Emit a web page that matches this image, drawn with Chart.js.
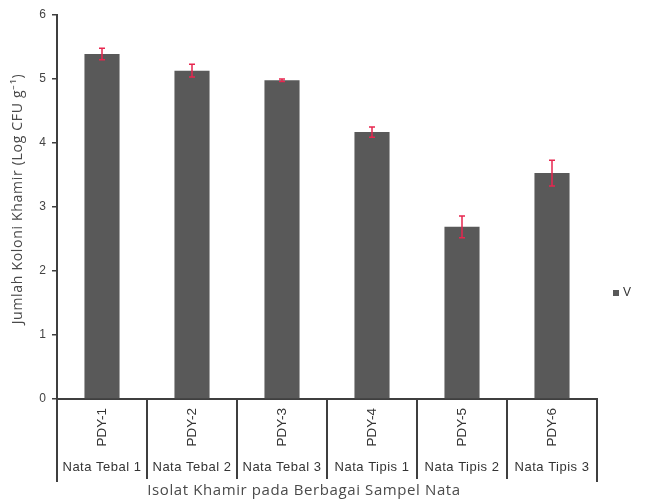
<!DOCTYPE html>
<html>
<head>
<meta charset="utf-8">
<script src="https://cdn.jsdelivr.net/npm/chart.js@4/dist/chart.umd.min.js"></script>
<style>
  html, body { margin: 0; padding: 0; background: #fff; }
  #wrap { width: 648px; height: 503px; position: relative; }
</style>
</head>
<body>
<div id="wrap"><canvas id="koloniChart" width="648" height="503"></canvas></div>
<script>
// isolat, kelompok sampel, nilai rata-rata dan galat
const isolates = ['PDY-1', 'PDY-2', 'PDY-3', 'PDY-4', 'PDY-5', 'PDY-6'];
const samples = ['Nata Tebal 1', 'Nata Tebal 2', 'Nata Tebal 3', 'Nata Tipis 1', 'Nata Tipis 2', 'Nata Tipis 3'];
const logCfu = [5.39, 5.13, 4.98, 4.17, 2.69, 3.53];
const errors = [0.09, 0.10, 0.02, 0.08, 0.17, 0.20];
const yTicks = [0, 1, 2, 3, 4, 5, 6];

const axisColor = '#3f3f3f';
const barColor = '#595959';

// error bars, category boxes, sample names, axis titles, legend
const extras = {
  id: 'extras',
  afterDatasetsDraw(chart) {
    const { ctx, scales: { x, y }, chartArea } = chart;
    ctx.save();

    // error bars
    ctx.strokeStyle = '#e8264f';
    ctx.lineWidth = 1.5;
    logCfu.forEach((v, i) => {
      const cx = x.getPixelForValue(i);
      const top = y.getPixelForValue(v + errors[i]);
      const bot = y.getPixelForValue(v - errors[i]);
      ctx.beginPath();
      ctx.moveTo(cx, top); ctx.lineTo(cx, bot);
      ctx.moveTo(cx - 3, top); ctx.lineTo(cx + 3, top);
      ctx.moveTo(cx - 3, bot); ctx.lineTo(cx + 3, bot);
      ctx.stroke();
    });

    // separators under the axis
    const step = (chartArea.right - chartArea.left) / isolates.length;
    ctx.strokeStyle = axisColor;
    ctx.lineWidth = 2;
    for (let i = 0; i <= isolates.length; i++) {
      const px = Math.round(chartArea.left + i * step);
      ctx.beginPath();
      ctx.moveTo(px, chartArea.bottom);
      ctx.lineTo(px, chartArea.bottom + (i === 0 || i === isolates.length ? 83 : 80));
      ctx.stroke();
    }

    // sample names
    ctx.fillStyle = '#333';
    ctx.font = '13px "Liberation Sans", Arial, sans-serif';
    ctx.letterSpacing = '0.5px';
    ctx.textAlign = 'center';
    ctx.textBaseline = 'middle';
    samples.forEach((s, i) => {
      ctx.fillText(s, x.getPixelForValue(i), 467);
    });

    // axis titles
    ctx.fillStyle = '#4a4a4a';
    ctx.font = '15px "Open Sans", sans-serif';
    ctx.letterSpacing = '0.6px';
    ctx.fillText('Isolat Khamir pada Berbagai Sampel Nata', 304, 491);

    ctx.save();
    ctx.translate(18, 199);
    ctx.rotate(-Math.PI / 2);
    ctx.font = '14px "Open Sans", sans-serif';
    ctx.letterSpacing = '0.7px';
    ctx.fillText('Jumlah Koloni Khamir (Log CFU g\u207B\u00B9)', 0, 0);
    ctx.restore();

    // legend
    ctx.letterSpacing = '0px';
    ctx.fillStyle = barColor;
    ctx.fillRect(613, 290, 6, 6);
    ctx.fillStyle = '#333';
    ctx.font = '12px "Liberation Sans", Arial, sans-serif';
    ctx.textAlign = 'left';
    ctx.fillText(chart.data.datasets[0].label, 623, 293);

    ctx.restore();
  }
};

new Chart(document.getElementById('koloniChart'), {
  type: 'bar',
  data: {
    labels: isolates,
    datasets: [{
      label: 'V',
      data: logCfu,
      backgroundColor: barColor,
      borderWidth: 0,
      categoryPercentage: 1,
      barPercentage: 0.39
    }]
  },
  options: {
    responsive: false,
    animation: false,
    devicePixelRatio: 1,
    layout: { padding: { top: 15, right: 51, left: 0, bottom: 0 } },
    plugins: { legend: { display: false }, tooltip: { enabled: false } },
    scales: {
      x: {
        grid: { display: false },
        border: { color: axisColor, width: 2 },
        ticks: {
          color: '#333',
          font: { family: '"Liberation Sans", Arial, sans-serif', size: 13.5 },
          minRotation: 90,
          maxRotation: 90,
          padding: 1
        },
        afterFit(scale) { scale.height = 104; }
      },
      y: {
        min: 0,
        max: 6,
        afterBuildTicks(scale) { scale.ticks = yTicks.map(v => ({ value: v })); },
        grid: { drawOnChartArea: false, tickLength: 5, color: axisColor, lineWidth: 1.5 },
        border: { color: axisColor, width: 2 },
        ticks: {
          color: '#444',
          font: { family: '"Liberation Sans", Arial, sans-serif', size: 12 },
          padding: 6
        },
        afterFit(scale) { scale.width = 57; }
      }
    }
  },
  plugins: [extras]
});
</script>
</body>
</html>
